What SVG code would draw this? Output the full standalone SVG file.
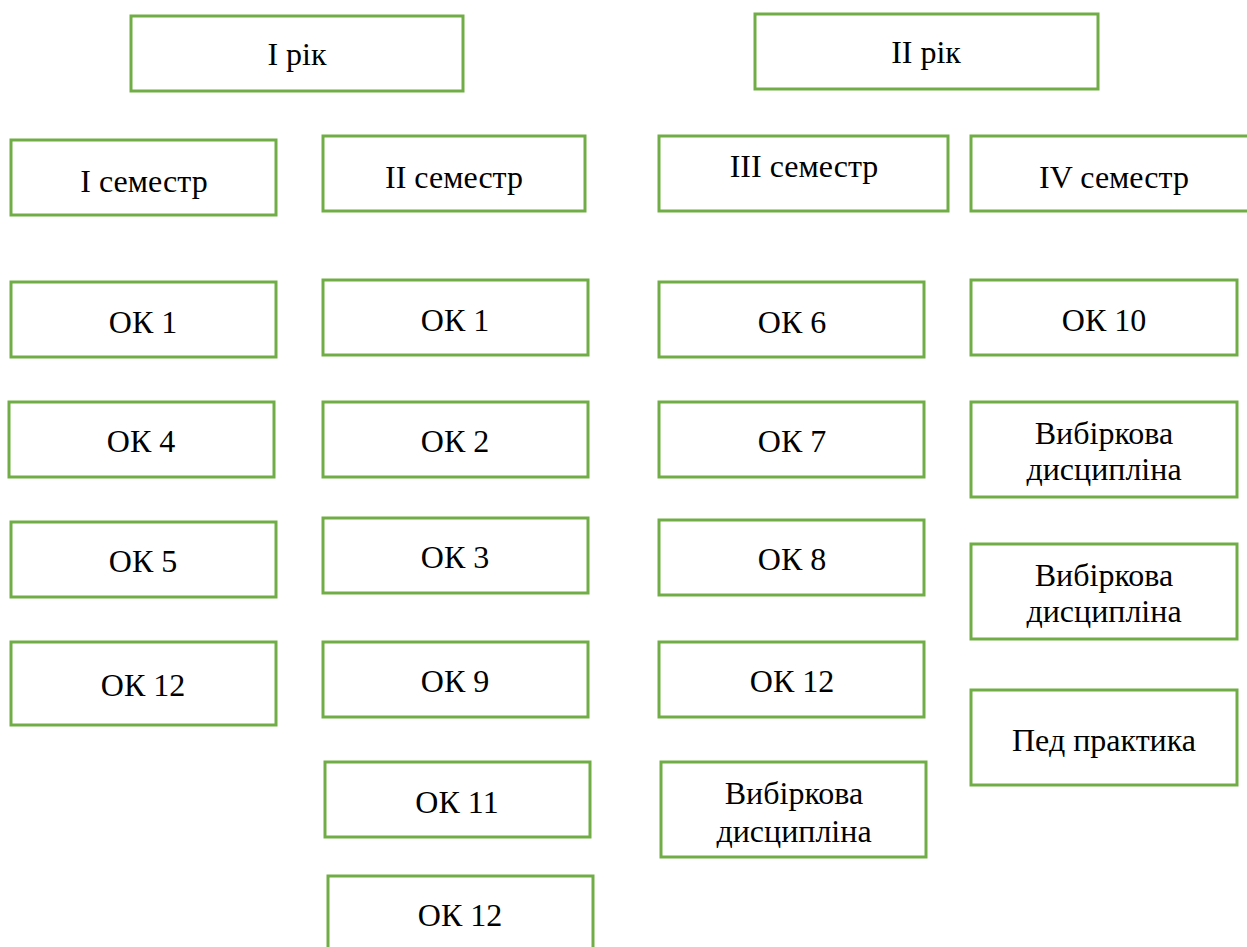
<svg xmlns="http://www.w3.org/2000/svg" width="1247" height="947" viewBox="0 0 1247 947">
<style>
rect.b{fill:#fff;stroke:#70AD47;stroke-width:3}
text{font-family:"Liberation Serif","Times New Roman",serif;font-size:32px;fill:#000;text-anchor:middle}
</style>
<rect x="0" y="0" width="1247" height="947" fill="#fff"/>
<g id="connectors"/>
<g id="y1"><rect class="b" x="131" y="16" width="332" height="75"/><text x="297" y="65">I рік</text></g>
<g id="y2"><rect class="b" x="755" y="14" width="343" height="75"/><text x="926" y="63">II рік</text></g>
<g id="s1"><rect class="b" x="11" y="140" width="265" height="75"/><text x="144" y="192">I семестр</text></g>
<g id="s2"><rect class="b" x="323" y="136" width="262" height="75"/><text x="454" y="188">II семестр</text></g>
<g id="s3"><rect class="b" x="659" y="136" width="289" height="75"/><text x="804" y="177">III семестр</text></g>
<g id="s4"><rect class="b" x="971" y="136" width="290" height="75"/><text x="1114" y="188">IV семестр</text></g>
<g id="c1ok1"><rect class="b" x="11" y="282" width="265" height="75"/><text x="143" y="333">ОК 1</text></g>
<g id="c1ok4"><rect class="b" x="9" y="402" width="265" height="75"/><text x="141" y="452">ОК 4</text></g>
<g id="c1ok5"><rect class="b" x="11" y="522" width="265" height="75"/><text x="143" y="572">ОК 5</text></g>
<g id="c1ok12"><rect class="b" x="11" y="642" width="265" height="83"/><text x="143" y="696">ОК 12</text></g>
<g id="c2ok1"><rect class="b" x="323" y="280" width="265" height="75"/><text x="455" y="331">ОК 1</text></g>
<g id="c2ok2"><rect class="b" x="323" y="402" width="265" height="75"/><text x="455" y="452">ОК 2</text></g>
<g id="c2ok3"><rect class="b" x="323" y="518" width="265" height="75"/><text x="455" y="568">ОК 3</text></g>
<g id="c2ok9"><rect class="b" x="323" y="642" width="265" height="75"/><text x="455" y="692">ОК 9</text></g>
<g id="c2ok11"><rect class="b" x="325" y="762" width="265" height="75"/><text x="457" y="813">ОК 11</text></g>
<g id="c2ok12"><rect class="b" x="328" y="876" width="265" height="90"/><text x="460" y="926">ОК 12</text></g>
<g id="c3ok6"><rect class="b" x="659" y="282" width="265" height="75"/><text x="792" y="333">ОК 6</text></g>
<g id="c3ok7"><rect class="b" x="659" y="402" width="265" height="75"/><text x="792" y="452">ОК 7</text></g>
<g id="c3ok8"><rect class="b" x="659" y="520" width="265" height="75"/><text x="792" y="570">ОК 8</text></g>
<g id="c3ok12"><rect class="b" x="659" y="642" width="265" height="75"/><text x="792" y="692">ОК 12</text></g>
<g id="c3vd"><rect class="b" x="661" y="762" width="265" height="95"/><text x="794" y="804">Вибіркова</text><text x="794" y="842">дисципліна</text></g>
<g id="c4ok10"><rect class="b" x="971" y="280" width="266" height="75"/><text x="1104" y="331">ОК 10</text></g>
<g id="c4vd1"><rect class="b" x="971" y="402" width="266" height="95"/><text x="1104" y="444">Вибіркова</text><text x="1104" y="480">дисципліна</text></g>
<g id="c4vd2"><rect class="b" x="971" y="544" width="266" height="95"/><text x="1104" y="586">Вибіркова</text><text x="1104" y="622">дисципліна</text></g>
<g id="c4ped"><rect class="b" x="971" y="690" width="266" height="95"/><text x="1104" y="751">Пед практика</text></g>
</svg>
